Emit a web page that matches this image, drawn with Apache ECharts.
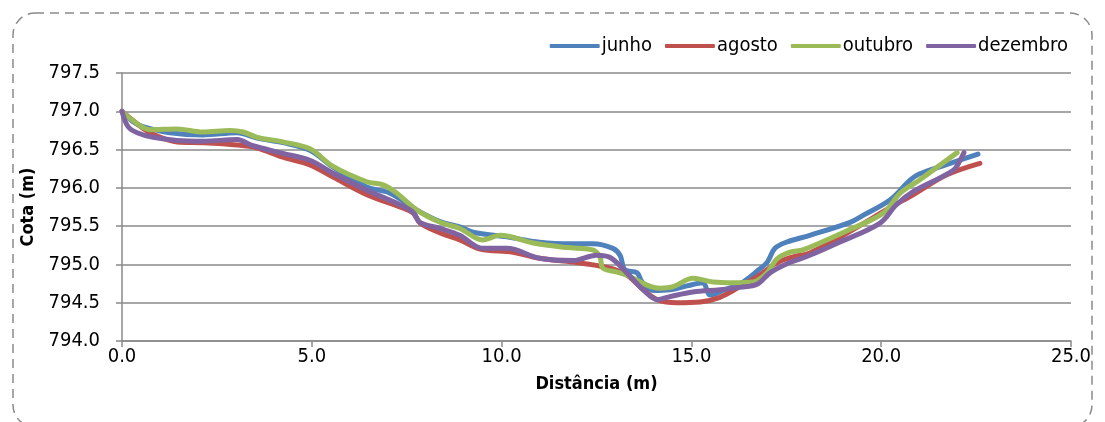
<!DOCTYPE html>
<html>
<head>
<meta charset="utf-8">
<script src="https://cdn.jsdelivr.net/npm/echarts@6/dist/echarts.min.js"></script>
<style>
  html, body { margin: 0; padding: 0; background: #fff; }
  #chart { width: 1105px; height: 422px; }
</style>
</head>
<body>
<div id="chart"></div>
<script>
  // perfis medidos: [distância (m), cota (m)]
  var junho = [[0,797.0],[0.3,796.86],[0.55,796.80],[1.26,796.72],[2.13,796.69],[3.03,796.72],[3.56,796.65],[4.24,796.59],[4.95,796.49],[5.56,796.27],[6.45,796.01],[7.06,795.93],[7.77,795.71],[8.38,795.56],[8.9,795.49],[9.25,795.42],[10.14,795.36],[11.0,795.29],[11.88,795.27],[12.4,795.27],[12.93,795.21],[13.12,795.12],[13.25,794.93],[13.57,794.89],[13.7,794.77],[14.0,794.66],[14.44,794.67],[14.88,794.72],[15.3,794.76],[15.49,794.60],[15.83,794.66],[16.36,794.77],[16.8,794.94],[17.0,795.03],[17.2,795.21],[17.5,795.29],[18.12,795.38],[19.18,795.55],[19.52,795.64],[20.23,795.84],[20.76,796.10],[21.0,796.18],[21.7,796.30],[22.55,796.44]];
  var agosto = [[0,797.0],[0.55,796.78],[0.82,796.70],[1.45,796.60],[2.13,796.59],[3.03,796.56],[3.56,796.52],[4.24,796.40],[4.95,796.30],[5.56,796.14],[6.45,795.91],[7.32,795.75],[7.67,795.67],[7.85,795.54],[8.38,795.41],[8.9,795.32],[9.43,795.20],[10.3,795.16],[11.0,795.08],[11.88,795.03],[12.78,794.96],[13.3,794.86],[13.73,794.67],[14.1,794.54],[14.62,794.50],[15.23,794.51],[15.75,794.57],[16.28,794.71],[16.8,794.86],[17.25,795.02],[17.68,795.10],[18.12,795.15],[19.1,795.41],[20.23,795.74],[20.84,795.91],[21.73,796.17],[22.6,796.32]];
  var outubro = [[0,797.0],[0.2,796.91],[0.74,796.76],[1.45,796.77],[2.13,796.73],[2.85,796.75],[3.19,796.73],[3.56,796.66],[4.24,796.60],[4.95,796.51],[5.56,796.28],[6.45,796.08],[6.88,796.04],[7.24,795.93],[7.77,795.71],[8.38,795.55],[8.9,795.47],[9.5,795.32],[9.96,795.38],[10.83,795.28],[11.72,795.22],[12.4,795.19],[12.59,795.10],[12.67,794.95],[13.04,794.90],[13.3,794.86],[13.83,794.73],[14.17,794.69],[14.52,794.71],[15.04,794.82],[15.57,794.77],[16.1,794.76],[16.62,794.77],[16.99,794.89],[17.25,795.07],[17.6,795.16],[17.94,795.19],[19.1,795.44],[20.05,795.67],[20.5,795.93],[21.0,796.10],[22.0,796.46]];
  var dezembro = [[0,797.0],[0.16,796.80],[0.4,796.72],[0.82,796.66],[1.45,796.62],[2.13,796.61],[3.03,796.63],[3.45,796.55],[4.24,796.45],[4.95,796.36],[5.56,796.19],[6.45,795.97],[7.32,795.78],[7.67,795.68],[7.85,795.55],[8.38,795.47],[8.9,795.38],[9.5,795.21],[10.14,795.21],[11.0,795.08],[11.88,795.05],[12.5,795.12],[12.86,795.09],[13.3,794.89],[13.73,794.67],[14.1,794.54],[14.44,794.58],[15.04,794.64],[15.75,794.67],[16.28,794.70],[16.73,794.74],[17.07,794.89],[17.52,795.01],[18.12,795.12],[18.9,795.29],[19.97,795.54],[20.4,795.78],[20.84,795.95],[21.9,796.23],[22.08,796.36],[22.18,796.46]];

  var seriesNames = ['junho', 'agosto', 'outubro', 'dezembro'];
  var seriesData = [junho, agosto, outubro, dezembro];
  var cores = ['#4F81BD', '#C0504D', '#9BBB59', '#8064A2'];

  var FONT = "'DejaVu Sans Condensed', 'Liberation Sans Narrow', 'Liberation Sans', sans-serif";

  var chart = echarts.init(document.getElementById('chart'));

  var series = seriesNames.map(function(nome, i) {
    return {
      name: nome,
      type: 'line',
      data: seriesData[i],
      smooth: 0.35,
      showSymbol: false,
      symbol: 'none',
      lineStyle: { width: 5, color: cores[i], cap: 'round', join: 'round' },
      itemStyle: { color: cores[i] },
      z: 10 + i
    };
  });

  var option = {
    animation: false,
    backgroundColor: '#fff',
    color: cores,
    textStyle: { fontFamily: FONT },
    graphic: [{
      type: 'rect',
      shape: { x: 13, y: 13, width: 1079, height: 414, r: 22 },
      style: { fill: 'none', stroke: '#8a8a8a', lineWidth: 1.5, lineDash: [9, 6] },
      silent: true
    }],
    legend: {
      data: seriesNames,
      right: 32,
      top: 31,
      icon: 'roundRect',
      itemWidth: 50,
      itemHeight: 4,
      itemGap: 13,
      textStyle: { fontSize: 20, color: '#000', fontFamily: FONT, padding: [0, 0, 0, -3] }
    },
    grid: { left: 122, right: 34, top: 73, bottom: 81 },
    xAxis: {
      type: 'value',
      min: 0,
      max: 25,
      interval: 5,
      name: 'Distância (m)',
      nameLocation: 'middle',
      nameGap: 34,
      nameTextStyle: { fontSize: 18, fontWeight: 'bold', color: '#000', fontFamily: FONT },
      axisLine: { show: true, lineStyle: { color: '#8a8a8a', width: 1.5 } },
      axisTick: { show: true, length: 6, lineStyle: { color: '#8a8a8a', width: 1.5 } },
      axisLabel: { fontSize: 20, color: '#000', margin: 6, fontFamily: FONT,
        formatter: function(v) { return v.toFixed(1); } },
      splitLine: { show: false }
    },
    yAxis: {
      type: 'value',
      min: 794.0,
      max: 797.5,
      interval: 0.5,
      name: 'Cota (m)',
      nameLocation: 'middle',
      nameGap: 82,
      nameTextStyle: { fontSize: 18, fontWeight: 'bold', color: '#000', fontFamily: FONT },
      axisLine: { show: true, lineStyle: { color: '#8a8a8a', width: 1.5 } },
      axisTick: { show: true, length: 6, lineStyle: { color: '#8a8a8a', width: 1.5 } },
      axisLabel: { fontSize: 20, color: '#000', margin: 22, fontFamily: FONT,
        formatter: function(v) { return v.toFixed(1); } },
      splitLine: { show: true, lineStyle: { color: '#8a8a8a', width: 1.5 } }
    },
    series: series
  };

  chart.setOption(option);
</script>
</body>
</html>
